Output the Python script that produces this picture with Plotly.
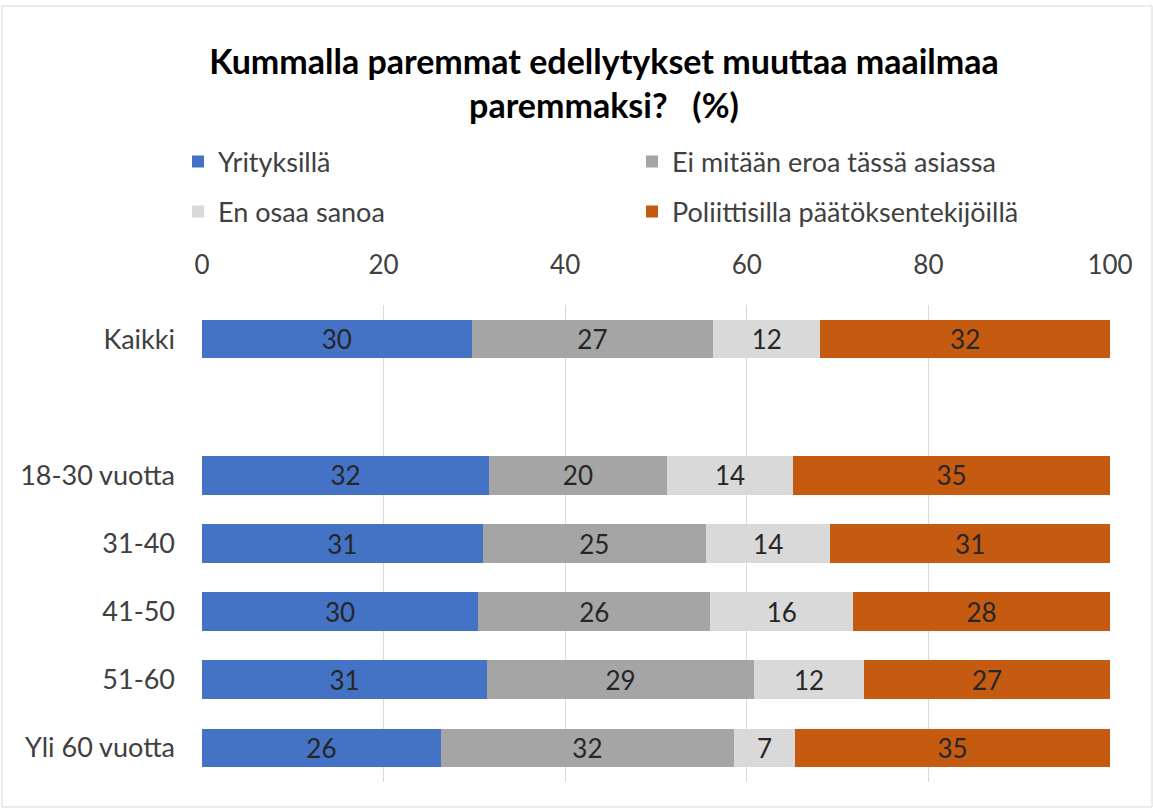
import plotly.graph_objects as go

categories = ["Kaikki", " ", "18-30 vuotta", "31-40", "41-50", "51-60", "Yli 60 vuotta"]
yrityksilla = [29.7, None, 31.6, 30.9, 30.4, 31.4, 26.3]
ei_eroa = [26.6, None, 19.6, 24.6, 25.6, 29.4, 32.3]
en_osaa = [11.8, None, 13.9, 13.7, 15.7, 12.1, 6.7]
poliittisilla = [31.9, None, 34.9, 30.8, 28.3, 27.1, 34.7]

series_names = ["Yrityksillä", "Ei mitään eroa tässä asiassa", "En osaa sanoa",
                "Poliittisilla päätöksentekijöillä"]
series_values = [yrityksilla, ei_eroa, en_osaa, poliittisilla]
colors = ["#4472C4", "#A5A5A5", "#D9D9D9", "#C55A11"]
legend_ids = ["legend", "legend2", "legend3", "legend4"]

W, H = 1153, 808
ML, MR, MT, MB = 202, 43, 305, 26

FONT = "Lato, Carlito, Calibri, sans-serif"
TXT = "#404040"

fig = go.Figure()
for name, vals, col, lg in zip(series_names, series_values, colors, legend_ids):
    fig.add_trace(go.Bar(
        y=categories, x=vals, name=name, orientation="h",
        marker=dict(color=col, line=dict(width=0)),
        texttemplate="%{x:.0f}", textposition="inside",
        insidetextanchor="middle", textangle=0, constraintext="none",
        textfont=dict(family=FONT, size=26, color="#262626"),
        legend=lg, hoverinfo="skip",
    ))

# left edge of legend box (px) and vertical centre (px)
legend_pos = {
    "legend": (178, 162),
    "legend2": (632, 162),
    "legend3": (178, 212),
    "legend4": (632, 212),
}
legend_layout = {}
for lg, (px, py) in legend_pos.items():
    legend_layout[lg] = dict(
        xref="container", yref="container",
        x=px / W, y=1 - py / H, xanchor="left", yanchor="middle",
        font=dict(family=FONT, size=27, color=TXT),
        bgcolor="rgba(0,0,0,0)", itemclick=False, itemdoubleclick=False,
    )

plot_h = H - MT - MB
plot_w = W - ML - MR

fig.update_layout(
    width=W, height=H,
    margin=dict(l=ML, r=MR, t=MT, b=MB, autoexpand=False),
    paper_bgcolor="white", plot_bgcolor="white",
    barmode="stack", bargap=0.43,
    showlegend=True,
    title=dict(
        text="<b>Kummalla paremmat edellytykset muuttaa maailmaa<br>paremmaksi?   (%)</b>",
        x=604 / W, xanchor="center", xref="container",
        y=1 - 74 / H, yanchor="top", yref="container",
        font=dict(family=FONT, size=34, color="#000000"),
    ),
    xaxis=dict(
        side="top", range=[0, 100], tickvals=[0, 20, 40, 60, 80, 100],
        showgrid=True, gridcolor="#D9D9D9", gridwidth=1,
        zeroline=False, showline=False, ticks="",
        ticklabelstandoff=25,
        tickfont=dict(family=FONT, size=26, color=TXT),
        fixedrange=True,
    ),
    yaxis=dict(
        categoryorder="array", categoryarray=categories,
        autorange="reversed", showgrid=False, zeroline=False, showline=False,
        ticks="", ticklabelstandoff=26,
        tickfont=dict(family=FONT, size=27, color=TXT),
        fixedrange=True,
    ),
    shapes=[dict(
        type="rect", xref="paper", yref="paper",
        x0=(2 - ML) / plot_w, x1=(1152 - ML) / plot_w,
        y0=-(MB - 1) / plot_h, y1=(H - MB - 6) / plot_h,
        line=dict(color="#D9D9D9", width=1), fillcolor="rgba(0,0,0,0)",
        layer="below",
    )],
    **legend_layout,
)

fig.write_html("out.html", config={"displayModeBar": False},
               post_script="document.body.style.margin='0';")
